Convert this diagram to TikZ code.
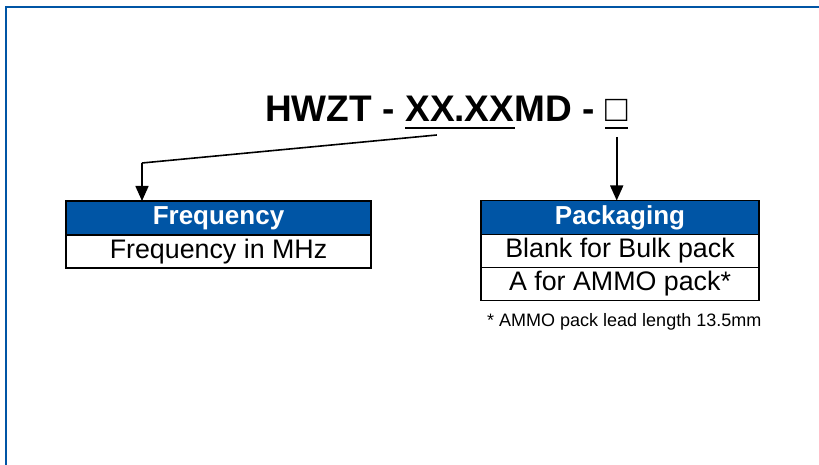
\documentclass[tikz,border=0pt]{standalone}
\usepackage{fontspec}
\setmainfont{Liberation Sans}
\usetikzlibrary{positioning,arrows.meta}
\definecolor{hwblue}{RGB}{0,85,165}
\begin{document}
\begin{tikzpicture}[x=1pt, y=1pt,
  head/.style = {draw, line width=1.6pt, outer sep=0pt, inner sep=0pt, fill=hwblue, text=white, font=\fontsize{26}{30}\selectfont\bfseries, minimum height=34pt},
  row/.style = {draw, line width=1.6pt, outer sep=0pt, inner sep=0pt, fill=white, font=\fontsize{26.8}{30}\selectfont, minimum height=33pt},
  part/.style = {inner sep=0pt, anchor=base west, font=\fontsize{37}{44}\selectfont\bfseries},
  pointer/.style = {line width=1.6pt, -{Triangle[length=15pt, width=13pt]}}]
  \useasboundingbox (0,0) rectangle (819,-465);
  \draw[hwblue, line width=2pt] (6,-465) -- (6,-7) -- (819,-7);
  % part number
  \node[part] (hwzt) at (265,-122) {HWZT - \mbox{}};
  \node[part] (xx) at (hwzt.base east) {XX.XX};
  \node[part] (md) at (xx.base east) {MD - \mbox{}};
  \node[part] (blank) at (md.base east) {□};
  \draw[line width=2.5pt] ([yshift=-6pt]xx.base west) -- ([yshift=-6pt]xx.base east);
  \draw[line width=2pt] ([yshift=-6pt]blank.base west) -- ([yshift=-6pt]blank.base east);
  % tables
  \node[head, minimum width=305pt] (freqhead) at (218.5,-218) {Frequency};
  \node[row, minimum width=305pt, below=0pt of freqhead] (freqrow) {Frequency in MHz};
  \node[head, minimum width=278pt] (pkghead) at (620,-217.5) {Packaging};
  \node[row, minimum width=278pt, below=0pt of pkghead] (bulkrow) {Blank for Bulk pack};
  \node[row, minimum width=278pt, below=0pt of bulkrow] (ammorow) {A for AMMO pack*};
  \node[anchor=base west, inner sep=0pt, font=\fontsize{18}{22}\selectfont] (ammonote) at ([xshift=6pt, yshift=-26pt]ammorow.south west) {* AMMO pack lead length 13.5mm};
  % connectors
  \coordinate (fqtap) at ([xshift=-23pt, yshift=-13pt]xx.base);
  \coordinate (fqbend) at (142,-163);
  \draw[line width=1.6pt] (fqtap) -- (fqbend);
  \draw[pointer] (fqbend) -- (fqbend |- freqhead.north);
  \draw[pointer] ([yshift=-15pt]blank.base) -- (blank.base |- pkghead.north);
\end{tikzpicture}
\end{document}
